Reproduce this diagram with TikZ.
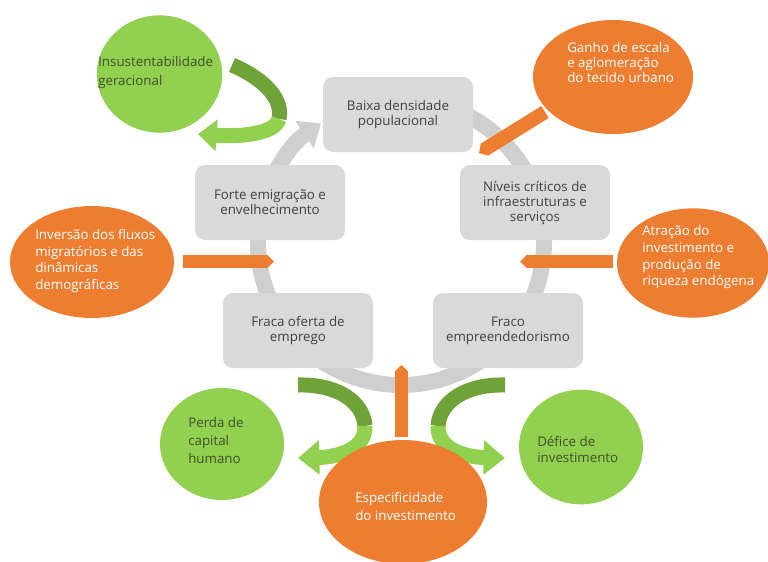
\documentclass[tikz,border=0pt]{standalone}
\usepackage{fontspec}
\setmainfont{Open Sans}
\usetikzlibrary{arrows.meta,shapes.geometric}
\definecolor{boxgray}{HTML}{D9D9D9}
\definecolor{ringgray}{HTML}{CFCFCF}
\definecolor{boxtext}{HTML}{404040}
\definecolor{lgreen}{HTML}{92D050}
\definecolor{dgreen}{HTML}{70A23A}
\definecolor{gtext}{HTML}{3F4F2F}
\definecolor{orng}{HTML}{ED7D31}
\begin{document}
\begin{tikzpicture}[x=0.75pt,y=-0.75pt,
  every node/.style={font=\fontsize{10}{11.25}\selectfont},
  gbox/.style={fill=boxgray, rounded corners=7.5pt, minimum width=112.5pt,
    minimum height=56.25pt, align=center, text=boxtext, inner sep=2pt},
  gcirc/.style={ellipse, fill=lgreen, inner sep=0pt},
  ocirc/.style={ellipse, fill=orng, inner sep=0pt},
  gtxt/.style={align=left, text=gtext, inner sep=0pt},
  otxt/.style={align=left, text=white, inner sep=0pt},
  obar/.style={draw=orng, line width=#1, -{Triangle[width=#1, length=5pt]}},
  darkband/.style={draw=dgreen, line width=11.25pt},
  lightband/.style={draw=lgreen, line width=11.25pt, -{Triangle[width=23pt, length=14pt]}}
]
\useasboundingbox (0,0) rectangle (768,561);

% gray ring with arrowhead
\coordinate (rc) at (401,242);
\draw[ringgray, line width=12pt, -{Triangle[width=24pt,length=15pt]}]
  (rc) ++(-80:143) arc[start angle=-80, end angle=236, radius=143];

% gray boxes
\node[gbox] (baixa) at (398,114.5) {Baixa densidade\\populacional};
\node[gbox] (forte) at (270,202.5) {Forte emigração e\\envelhecimento};
\node[gbox] (niveis) at (535,202.5) {Níveis críticos de\\infraestruturas e\\serviços};
\node[gbox] (fraca) at (298,330.5) {Fraca oferta de\\emprego};
\node[gbox] (fraco) at (508,330.5) {Fraco\\empreendedorismo};

% green curved arrows
\coordinate (a1s) at (232,65);
\coordinate (a1m) at (279,119);
\coordinate (a1e) at (198,134);
\draw[darkband] (a1s) .. controls (258,76) and (284,96) .. (a1m);
\draw[lightband] (a1m) .. controls (275,134) and (240,137) .. (a1e);

\coordinate (a2s) at (298,385);
\coordinate (a2m) at (365,426);
\coordinate (a2e) at (298,458);
\draw[darkband] (a2s) .. controls (335,384) and (363,400) .. (a2m);
\draw[lightband, -{Triangle[width=25pt, length=16pt]}] (a2m) .. controls (366,448) and (340,457) .. (a2e);

\coordinate (a3s) at (505,385);
\coordinate (a3m) at (438,426);
\coordinate (a3e) at (505,458);
\draw[darkband] (a3s) .. controls (468,384) and (440,400) .. (a3m);
\draw[lightband, -{Triangle[width=25pt, length=16pt]}] (a3m) .. controls (437,448) and (463,457) .. (a3e);

% orange ellipses
\node[ocirc, minimum width=120pt, minimum height=85.5pt] (ganho) at (613,77) {};
\node[ocirc, minimum width=123pt, minimum height=84pt] (inversao) at (92,262) {};
\node[ocirc, minimum width=114pt, minimum height=82pt] (atracao) at (693,263) {};
\node[ocirc, minimum width=126pt, minimum height=93pt] (espec) at (403,502) {};

% orange bars
\coordinate (b1s) at (545,112);
\coordinate (b1e) at (479,153);
\draw[obar=10.5pt] (b1s) -- (b1e);
\coordinate (b2s) at (183,261.5);
\coordinate (b2e) at (274,261.5);
\draw[obar=9.5pt] (b2s) -- (b2e);
\coordinate (b3s) at (613,261.5);
\coordinate (b3e) at (520,261.5);
\draw[obar=9.5pt] (b3s) -- (b3e);
\coordinate (b4s) at (401.5,437);
\coordinate (b4e) at (401.5,365);
\draw[obar=10pt] (b4s) -- (b4e);

% green circles
\node[gcirc, minimum width=94pt, minimum height=88pt] (insust) at (159.5,74) {};
\node[gcirc, minimum width=93pt, minimum height=84pt] (perda) at (222,444) {};
\node[gcirc, minimum width=93pt, minimum height=86pt] (defice) at (581,447) {};

% texts
\node[gtxt, anchor=west, font=\fontsize{10}{14}\selectfont] (tinsust) at (98,72.5) {Insustentabilidade\\geracional};
\node[gtxt, anchor=west, font=\fontsize{10}{13.5}\selectfont] (tperda) at (188,440) {Perda de\\capital\\humano};
\node[gtxt, anchor=west, font=\fontsize{10}{12}\selectfont] (tdefice) at (537,449) {Défice de\\investimento};
\node[otxt, anchor=west, font=\fontsize{10}{11.6}\selectfont] (tganho) at (567,62.5) {Ganho de escala\\e aglomeração\\do tecido urbano};
\node[otxt, anchor=west, font=\fontsize{10}{12.5}\selectfont] (tinv) at (35,261) {Inversão dos fluxos\\migratórios e das\\dinâmicas\\demográficas};
\node[otxt, anchor=west, font=\fontsize{10}{12.5}\selectfont] (tatr) at (642,257.5) {Atração do\\investimento e\\produção de\\riqueza endógena};
\node[otxt, anchor=west, font=\fontsize{10}{13.5}\selectfont] (tesp) at (355,506) {Especificidade\\do investimento};
\end{tikzpicture}
\end{document}
